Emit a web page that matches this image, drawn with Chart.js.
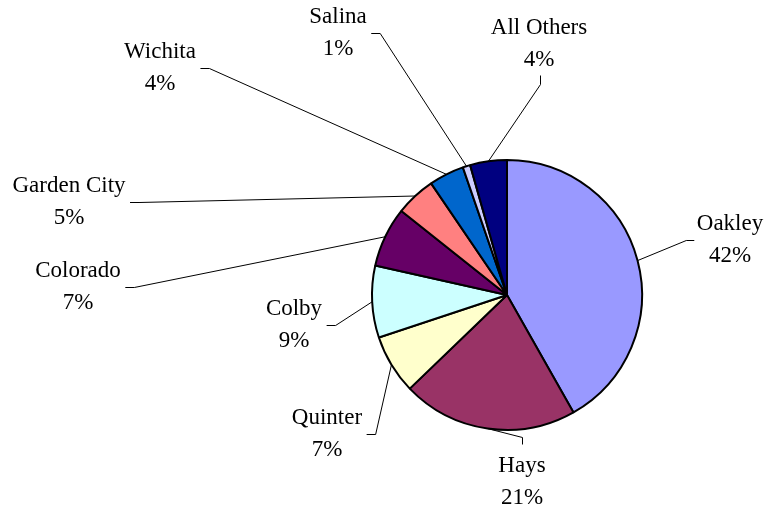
<!DOCTYPE html>
<html>
<head>
<meta charset="utf-8">
<script src="https://cdn.jsdelivr.net/npm/chart.js@4/dist/chart.umd.min.js"></script>
<style>
  html, body { margin: 0; padding: 0; background: #ffffff; }
  #wrap { width: 769px; height: 514px; }
</style>
</head>
<body>
<div id="wrap"><canvas id="c" width="769" height="514"></canvas></div>
<script>
// ---- data ----
const categories = ["Oakley", "Hays", "Quinter", "Colby", "Colorado", "Garden City", "Wichita", "Salina", "All Others"];
const shares = [41.8, 21.0, 7.1, 8.6, 7.2, 4.8, 4.2, 0.9, 4.4];
const sliceColors = ["#9999FF", "#993366", "#FFFFCC", "#CCFFFF", "#660066", "#FF8080", "#0066CC", "#CCCCFF", "#000080"];

// ---- label layout (text block centre + side where leader attaches) ----
const labelLayout = [
  { x: 730, y: 240, side: "left" },
  { x: 522, y: 482, side: "top" },
  { x: 327, y: 434, side: "right" },
  { x: 294, y: 325, side: "right" },
  { x: 78,  y: 287, side: "right" },
  { x: 69,  y: 202, side: "right" },
  { x: 160, y: 68,  side: "right" },
  { x: 338, y: 33,  side: "right" },
  { x: 539, y: 44,  side: "bottom" }
];

const FONT = "23px 'Liberation Serif', 'Times New Roman', serif";
const LINE_GAP = 32;

const labelPlugin = {
  id: "excelLabels",
  afterDatasetsDraw(chart) {
    const ctx = chart.ctx;
    const meta = chart.getDatasetMeta(0);
    const total = shares.reduce((a, b) => a + b, 0);
    ctx.save();
    ctx.font = FONT;
    ctx.fillStyle = "#000000";
    ctx.strokeStyle = "#000000";
    ctx.lineWidth = 1;
    ctx.textAlign = "center";
    ctx.textBaseline = "middle";
    meta.data.forEach((arc, i) => {
      const p = arc.getProps(["x", "y", "startAngle", "endAngle", "outerRadius"], true);
      const mid = (p.startAngle + p.endAngle) / 2;
      const ax = p.x + Math.cos(mid) * p.outerRadius;
      const ay = p.y + Math.sin(mid) * p.outerRadius;
      const L = labelLayout[i];
      const t1 = categories[i];
      const t2 = Math.round(shares[i] / total * 100) + "%";
      const w = Math.max(ctx.measureText(t1).width, ctx.measureText(t2).width);
      const y1 = L.y - LINE_GAP / 2, y2 = L.y + LINE_GAP / 2;
      ctx.fillText(t1, L.x, y1);
      ctx.fillText(t2, L.x, y2);
      let fx, fy, ex, ey;
      if (L.side === "left") { fx = L.x - w / 2 - 3; fy = L.y; ex = fx - 8; ey = fy; }
      else if (L.side === "right") { fx = L.x + w / 2 + 4; fy = L.y; ex = fx + 9; ey = fy; }
      else if (L.side === "top") { fx = L.x; fy = y1 - 22; ex = fx; ey = fy - 7; }
      else { fx = L.x + 1; fy = y2 + 15; ex = fx; ey = fy + 9; }
      ctx.beginPath();
      ctx.moveTo(fx + 0.5, fy + 0.5);
      ctx.lineTo(ex + 0.5, ey + 0.5);
      ctx.lineTo(ax, ay);
      ctx.stroke();
    });
    ctx.restore();
  }
};

new Chart(document.getElementById("c"), {
  type: "pie",
  data: {
    labels: categories,
    datasets: [{
      data: shares,
      backgroundColor: sliceColors,
      borderColor: "#000000",
      borderWidth: 2,
      radius: 135
    }]
  },
  options: {
    responsive: false,
    animation: false,
    layout: { padding: { left: 245, right: 0, top: 100, bottom: 24 } },
    plugins: { legend: { display: false }, tooltip: { enabled: false } }
  },
  plugins: [labelPlugin]
});
</script>
</body>
</html>
